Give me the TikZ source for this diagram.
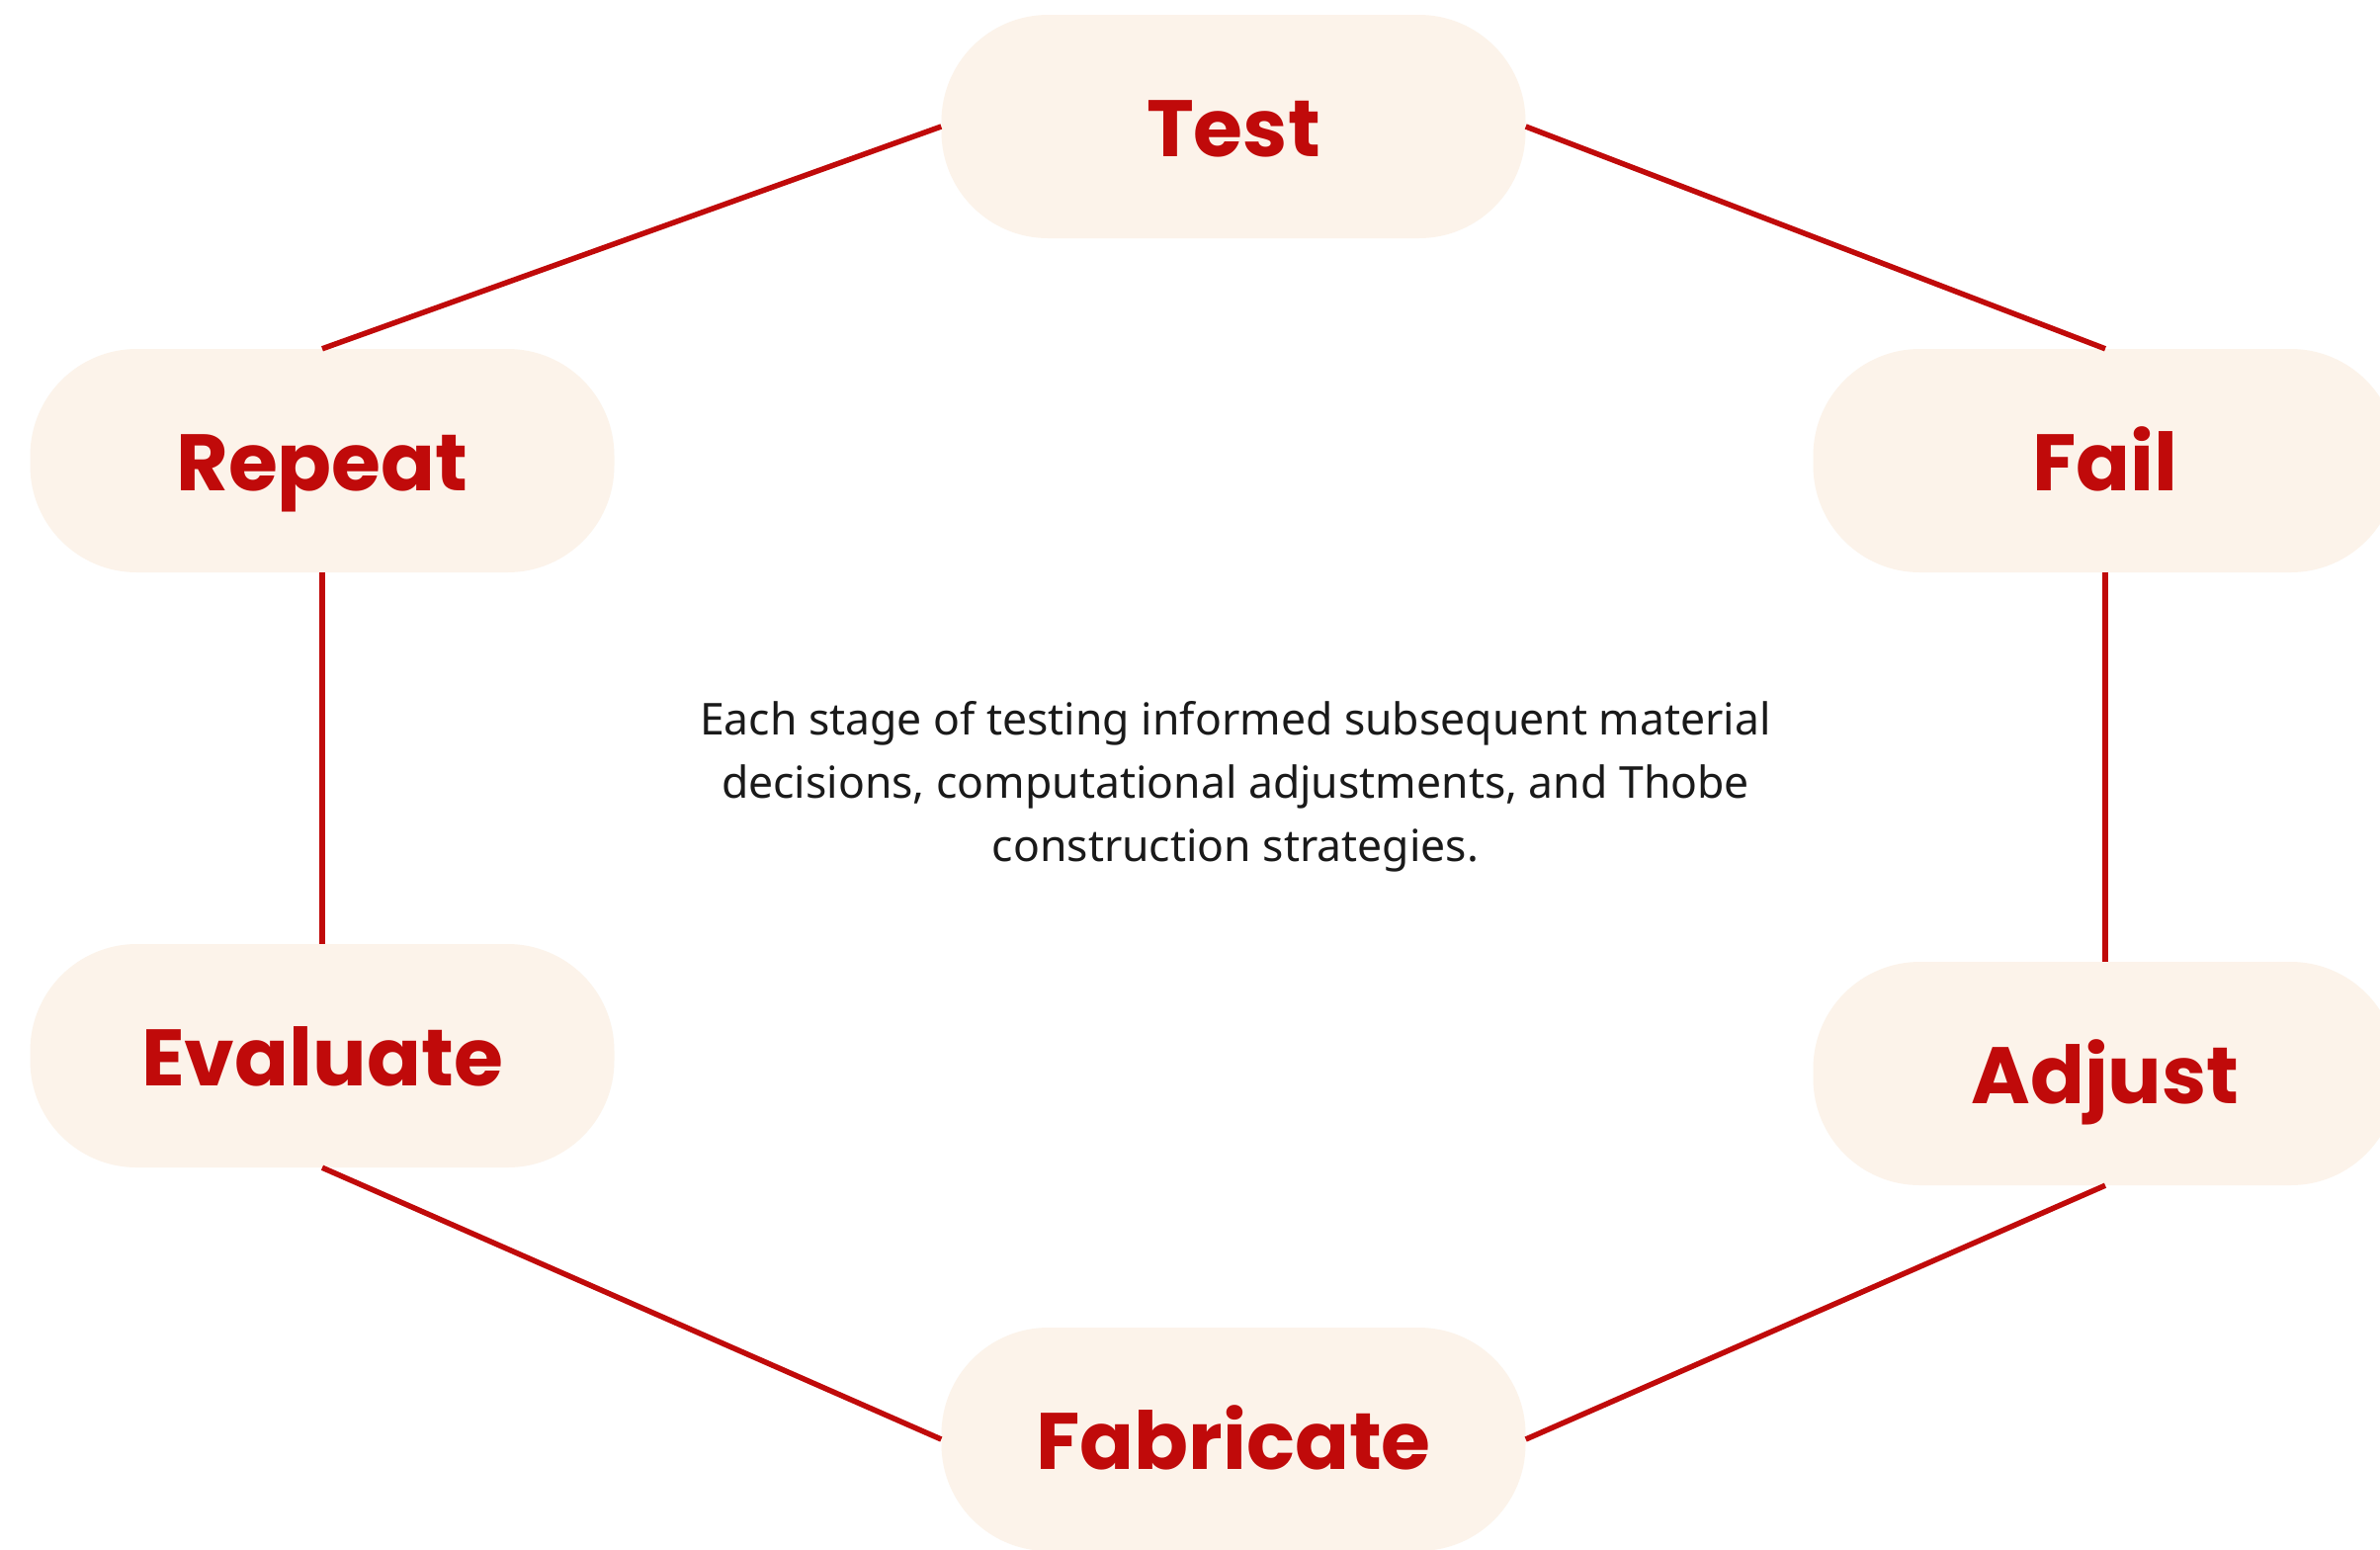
\documentclass[tikz,border=0pt]{standalone}
\usepackage{fontspec}
\setmainfont{Noto Sans}
\newfontfamily\labfont{Poppins}
\definecolor{redc}{HTML}{C00A0A}
\definecolor{pillbg}{HTML}{FCF3EA}
\definecolor{bodyc}{HTML}{1A1A1A}
\begin{document}
\begin{tikzpicture}[x=1pt,y=-1pt,
  pill/.style={rectangle, rounded corners=108pt, fill=pillbg, draw=none,
    minimum width=591pt, minimum height=226pt, inner sep=0pt,
    text height=60pt, text depth=0pt,
    text=redc, font=\labfont\bfseries\fontsize{81}{90}\selectfont},
  conn/.style={draw=redc, line width=5.5pt},
  body/.style={align=center, text=bodyc, font=\fontsize{44.5}{64}\selectfont}]
\useasboundingbox (0,0) rectangle (2408,1567);
\fill[white] (0,0) rectangle (2408,1567);
\node[pill] (test) at (1248,128) {Test};
\node[pill] (repeat) at (326,466) {Repeat};
\node[pill] (fail) at (2130,466) {Fail};
\node[pill] (evaluate) at (326,1068) {Evaluate};
\node[pill] (adjust) at (2130,1086) {Adjust};
\node[pill] (fabricate) at (1248,1456) {Fabricate};
\draw[conn] (test.west) -- (repeat.north);
\draw[conn] (test.east) -- (fail.north);
\draw[conn] (repeat.south) -- (evaluate.north);
\draw[conn] (fail.south) -- (adjust.north);
\draw[conn] (evaluate.south) -- (fabricate.west);
\draw[conn] (adjust.south) -- (fabricate.east);
\node[body] (note) at (1250,796) {Each stage of testing informed subsequent material\\decisions, computational adjustments, and Thobe\\construction strategies.};
\end{tikzpicture}
\end{document}
